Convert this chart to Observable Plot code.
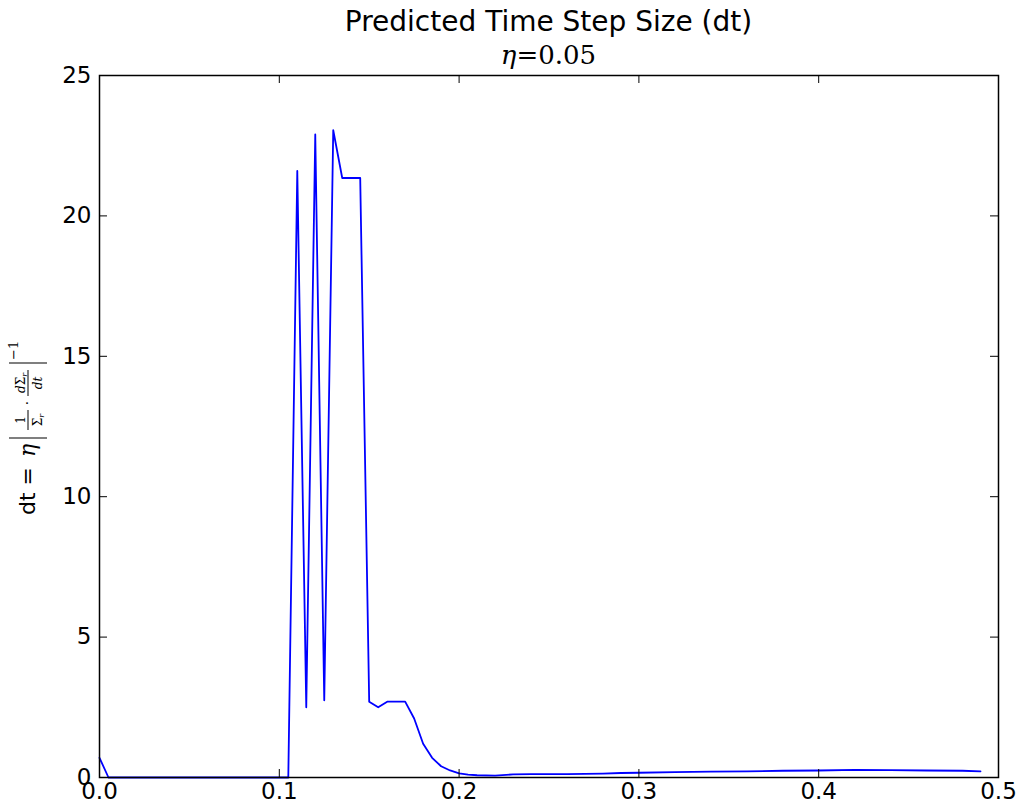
<!DOCTYPE html>
<html>
<head>
<meta charset="utf-8">
<script src="https://cdn.jsdelivr.net/npm/d3@7"></script>
<script src="https://cdn.jsdelivr.net/npm/@observablehq/plot@0.6"></script>
<style>
  html, body { margin: 0; padding: 0; background: #fff; }
  #chart svg { display: block; }
</style>
</head>
<body>
<div id="chart"></div>
<script>
// Radius (x) and predicted time step dt (y)
const radius = [0, 0.005, 0.105, 0.11, 0.115, 0.12, 0.125, 0.13, 0.135, 0.145,
  0.15, 0.155, 0.16, 0.17, 0.175, 0.18, 0.185, 0.19, 0.195, 0.2,
  0.205, 0.21, 0.22, 0.23, 0.24, 0.25, 0.26, 0.27, 0.28, 0.29,
  0.30, 0.32, 0.34, 0.36, 0.38, 0.40, 0.42, 0.44, 0.46, 0.48, 0.49];
const dt = [0.7, 0, 0, 21.6, 2.5, 22.9, 2.75, 23.05, 21.35, 21.35,
  2.7, 2.5, 2.7, 2.7, 2.1, 1.2, 0.7, 0.4, 0.25, 0.15,
  0.1, 0.08, 0.07, 0.11, 0.12, 0.12, 0.12, 0.13, 0.14, 0.16,
  0.17, 0.19, 0.21, 0.22, 0.24, 0.25, 0.27, 0.26, 0.25, 0.24, 0.22];
const xTicks = [0, 0.1, 0.2, 0.3, 0.4, 0.5];
const yTicks = [0, 5, 10, 15, 20, 25];
const titleText = "Predicted Time Step Size (dt)";
const etaValue = "0.05";

const data = radius.map((r, i) => ({r, dt: dt[i]}));

const W = 1019, H = 811;
const mL = 99, mR = 21, mT = 75, mB = 34;
const plotW = W - mL - mR, plotH = H - mT - mB;
const tick = 8;

const plot = Plot.plot({
  width: W, height: H,
  marginLeft: mL, marginRight: mR, marginTop: mT, marginBottom: mB,
  style: {fontFamily: "DejaVu Sans", fontSize: "23px", color: "#000", background: "#fff"},
  x: {domain: [0, 0.5]},
  y: {domain: [0, 25]},
  marks: [
    Plot.line(data, {x: "r", y: "dt", stroke: "#0000ff", strokeWidth: 1.8}),
    // inward ticks on all four sides
    Plot.ruleX(xTicks, {x: d => d, insetTop: plotH - tick, stroke: "#000", strokeWidth: 1}),
    Plot.ruleX(xTicks, {x: d => d, insetBottom: plotH - tick, stroke: "#000", strokeWidth: 1}),
    Plot.ruleY(yTicks, {y: d => d, insetRight: plotW - tick, stroke: "#000", strokeWidth: 1}),
    Plot.ruleY(yTicks, {y: d => d, insetLeft: plotW - tick, stroke: "#000", strokeWidth: 1}),
    Plot.axisX({ticks: xTicks, tickSize: 0, tickPadding: 5, tickFormat: d3.format(".1f"), label: null}),
    Plot.axisY({ticks: yTicks, tickSize: 0, tickPadding: 8, tickFormat: d3.format("d"), label: null}),
    Plot.frame({stroke: "#000", strokeWidth: 1.5})
  ]
});

document.getElementById("chart").appendChild(plot);
const svg = d3.select(plot);

// Title
const cx = mL + plotW / 2;
svg.append("text")
  .attr("x", cx).attr("y", 31)
  .attr("text-anchor", "middle")
  .attr("font-family", "DejaVu Sans")
  .attr("font-size", 28)
  .attr("fill", "#000")
  .text(titleText);

const sub = svg.append("text")
  .attr("x", cx).attr("y", 64)
  .attr("text-anchor", "middle")
  .attr("font-family", "DejaVu Serif")
  .attr("font-size", 26)
  .attr("fill", "#000");
sub.append("tspan").attr("font-style", "italic").text("η");
sub.append("tspan").text("=" + etaValue);

// Y-axis label: dt = η |(1/Σr)·(dΣr/dt)|^-1
const g = svg.append("g")
  .attr("transform", "translate(35,515) rotate(-90)")
  .attr("text-anchor", "start")
  .attr("fill", "#000");
g.append("text").attr("x", 0).attr("y", 0).attr("text-anchor", "start")
  .attr("font-family", "DejaVu Sans").attr("font-size", 22).text("dt = ");
g.append("text").attr("x", 58).attr("y", 0).attr("text-anchor", "start")
  .attr("font-family", "DejaVu Serif").attr("font-style", "italic").attr("font-size", 22).text("η");
const bar = (x) => g.append("line").attr("x1", x).attr("x2", x).attr("y1", -26).attr("y2", 12)
  .attr("stroke", "#000").attr("stroke-width", 1.2);
bar(77); bar(152);
function frac(center, num, den, width) {
  const n = g.append("text").attr("x", center).attr("y", -10).attr("text-anchor", "middle")
    .attr("font-family", "DejaVu Serif").attr("font-size", 12);
  num.forEach(([t, sub, it]) => {
    const s = n.append("tspan").text(t);
    if (it) s.attr("font-style", "italic");
    if (sub) s.attr("font-size", 8).attr("dy", 2);
  });
  g.append("line").attr("x1", center - width / 2).attr("x2", center + width / 2)
    .attr("y1", -7).attr("y2", -7).attr("stroke", "#000").attr("stroke-width", 1);
  const d = g.append("text").attr("x", center).attr("y", 7).attr("text-anchor", "middle")
    .attr("font-family", "DejaVu Serif").attr("font-size", 12);
  den.forEach(([t, sub, it]) => {
    const s = d.append("tspan").text(t);
    if (it) s.attr("font-style", "italic");
    if (sub) s.attr("font-size", 8).attr("dy", 2);
  });
}
frac(95, [["1", false, false]], [["Σ", false, false], ["r", true, true]], 20);
g.append("text").attr("x", 112).attr("y", -3).attr("text-anchor", "middle")
  .attr("font-family", "DejaVu Serif").attr("font-size", 14).text("·");
frac(132, [["d", false, true], ["Σ", false, false], ["r", true, true]], [["dt", false, true]], 26);
g.append("text").attr("x", 155).attr("y", -17).attr("text-anchor", "start")
  .attr("font-family", "DejaVu Serif").attr("font-size", 13).text("−1");
</script>
</body>
</html>
